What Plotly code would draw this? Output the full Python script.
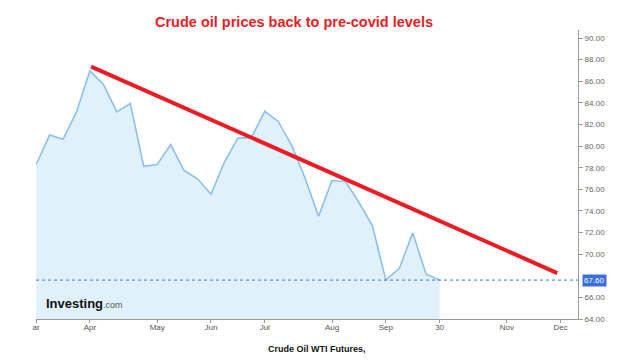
import plotly.graph_objects as go

# ---- data ----
week_dates = [
    "2024-03-04", "2024-03-11", "2024-03-18", "2024-03-25",
    "2024-04-01", "2024-04-08", "2024-04-15", "2024-04-22", "2024-04-29",
    "2024-05-06", "2024-05-13", "2024-05-20", "2024-05-27",
    "2024-06-03", "2024-06-10", "2024-06-17", "2024-06-24",
    "2024-07-01", "2024-07-08", "2024-07-15", "2024-07-22", "2024-07-29",
    "2024-08-05", "2024-08-12", "2024-08-19", "2024-08-26",
    "2024-09-02", "2024-09-09", "2024-09-16", "2024-09-23", "2024-09-30",
]
wti_close = [
    78.30, 81.02, 80.62, 83.16,
    86.96, 85.70, 83.16, 83.94, 78.12,
    78.30, 80.13, 77.74, 76.97,
    75.54, 78.51, 80.74, 80.78,
    83.22, 82.28, 80.06, 77.03, 73.50,
    76.81, 76.72, 74.80, 72.64,
    67.62, 68.67, 71.96, 68.15, 67.60,
]
last_price = 67.60

trend_dates = ["2024-04-01 14:00", "2024-11-30 06:00"]
trend_values = [87.35, 68.25]

x_tick_dates = ["2024-03-04", "2024-04-01", "2024-05-06", "2024-06-03", "2024-07-01",
                "2024-08-05", "2024-09-02", "2024-09-30", "2024-11-04", "2024-12-02"]
x_tick_labels = ["ar", "Apr", "May", "Jun", "Jul", "Aug", "Sep", "30", "Nov", "Dec"]
# 68.00 sits behind the last-price box in the reference
y_tick_vals = [64, 66, 70, 72, 74, 76, 78, 80, 82, 84, 86, 88, 90]

title_text = "Crude oil prices back to pre-covid levels"
caption_text = "Crude Oil WTI Futures,"

# ---- layout geometry (page body has an 8px default margin) ----
OFF = 8
W, H = 617 - OFF, 363 - OFF
ML, MT = 36 - OFF, 30 - OFF
PW, PH = 542, 289
MR, MB = W - ML - PW, H - MT - PH


def px_x(px):
    return (px - 36) / PW


def px_y(py):
    return (319 - py) / PH


fig = go.Figure()

fig.add_trace(go.Scatter(
    x=week_dates, y=wti_close, mode="lines",
    line=dict(color="#8cc0ec", width=1.6),
    fill="tozeroy", fillcolor="#e1f1fb",
    hoverinfo="skip", showlegend=False,
))

fig.add_trace(go.Scatter(
    x=trend_dates, y=trend_values, mode="lines",
    line=dict(color="#ec1c24", width=4),
    hoverinfo="skip", showlegend=False,
))

fig.add_shape(type="line", xref="paper", x0=0, x1=1, yref="y", y0=last_price, y1=last_price,
              line=dict(color="#3f72d9", width=1, dash="dot"))

fig.update_xaxes(
    type="date",
    range=["2024-03-03 22:00", "2024-12-11 01:00"],
    tickmode="array", tickvals=x_tick_dates, ticktext=x_tick_labels,
    showgrid=False, zeroline=False,
    showline=True, linecolor="#999999", linewidth=1,
    ticks="outside", ticklen=3, tickcolor="#999999",
    ticklabelstandoff=-3,
    tickfont=dict(family="Liberation Sans, Arial", size=8, color="#555555"),
)
fig.update_yaxes(
    side="right",
    range=[64, 90.74],
    tickmode="array", tickvals=y_tick_vals, tickformat=".2f",
    showgrid=False, zeroline=False,
    showline=True, linecolor="#999999", linewidth=1,
    ticks="outside", ticklen=4, tickcolor="#999999",
    tickfont=dict(family="Liberation Sans, Arial", size=8, color="#666666"),
)

annotations = [
    dict(text=f"{last_price:.2f}", xref="paper", x=1, xanchor="left", xshift=4,
         yref="y", y=last_price, yanchor="middle", showarrow=False,
         bgcolor="#3a6fd8", borderpad=1,
         font=dict(family="Liberation Sans, Arial", size=8, color="white")),
    dict(text="<b>Investing</b><span style='font-size:9px;color:#555555'>.com</span>",
         xref="paper", x=px_x(44), xanchor="left",
         yref="paper", y=px_y(303), yanchor="middle", showarrow=False,
         font=dict(family="Liberation Sans, Arial", size=13, color="#111111")),
    dict(text=f"<b>{caption_text}</b>", xref="paper", x=px_x(317), xanchor="center",
         yref="paper", y=px_y(349), yanchor="middle", showarrow=False,
         font=dict(family="Liberation Sans, Arial", size=9, color="#111111")),
]

fig.update_layout(
    width=W, height=H, autosize=False,
    margin=dict(l=ML, r=MR, t=MT, b=MB),
    paper_bgcolor="white", plot_bgcolor="white",
    title=dict(text=f"<b>{title_text}</b>", xref="paper", x=px_x(294), xanchor="center",
               yref="container", y=1 - (22 - OFF) / H, yanchor="middle",
               font=dict(family="Liberation Sans, Arial", size=14.5, color="#ec1c24")),
    annotations=annotations,
    showlegend=False,
)

fig.write_html("out.html")
